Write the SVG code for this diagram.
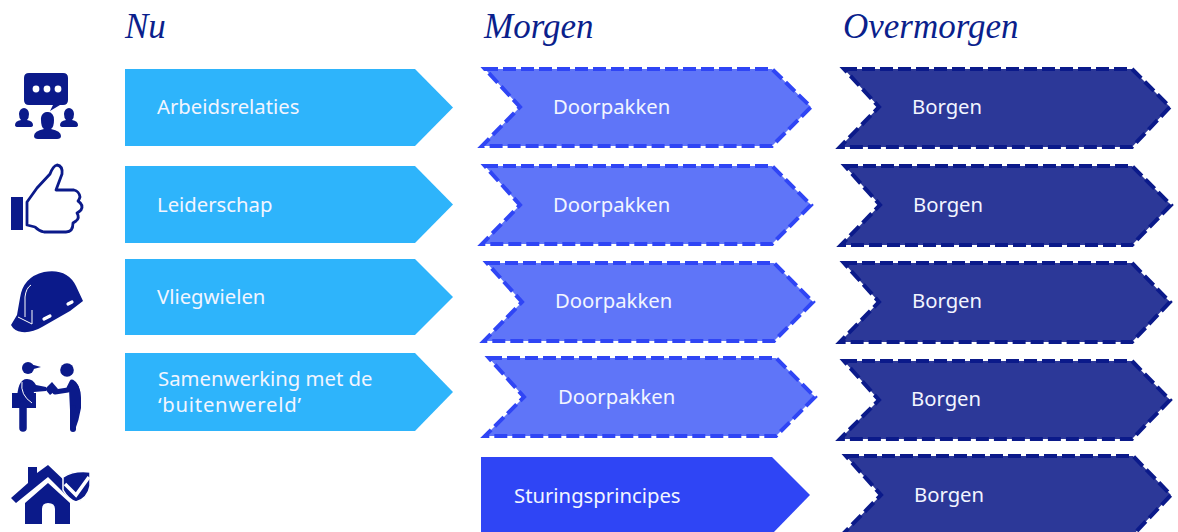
<svg xmlns="http://www.w3.org/2000/svg" width="1178" height="532" viewBox="0 0 1178 532">
<defs>
<style>
.t{font-family:"Noto Sans","Liberation Sans",sans-serif;font-size:20.300px;fill:#f2f5ff}
.h{font-family:"Liberation Serif",serif;font-style:italic;font-size:35px;fill:#0b1f8c}
.nu{fill:#2eb4fb}
.mo{fill:#5f75f8;stroke:#2f45f5;stroke-width:4;stroke-dasharray:13 5}
.ov{fill:#2c3898;stroke:#0b1a8a;stroke-width:4;stroke-dasharray:13 5}
.st{fill:#2f45f5}
.i{fill:#0b1a8a}
</style>
</defs>
<rect width="1178" height="532" fill="#ffffff"/>
<g id="headers">
<text class="h" x="125" y="38">Nu</text>
<text class="h" x="484" y="38">Morgen</text>
<text class="h" x="843" y="38">Overmorgen</text>
</g>
<g id="icon-relaties" class="i">
<path d="M29 73H63Q68 73 68 78V100Q68 105 63 105H60L50 111L53 105H29Q24 105 24 100V78Q24 73 29 73Z"/>
<circle cx="36" cy="89" fill="#fff" r="3.400"/><circle cx="47" cy="89" fill="#fff" r="3.400"/><circle cx="58" cy="89" fill="#fff" r="3.400"/>
<path d="M24 108a5 6 0 0 1 5 6q0 4-2 6q6 1 6 5q0 2-3 2H18q-3 0-3-2q0-4 6-5q-2-2-2-6a5 6 0 0 1 5-6Z"/>
<path d="M69 108a5 6 0 0 1 5 6q0 4-2 6q6 1 6 5q0 2-3 2H63q-3 0-3-2q0-4 6-5q-2-2-2-6a5 6 0 0 1 5-6Z"/>
<path d="M48 112a6 7 0 0 1 6 8q0 7-3 9q10 2 10 7q0 3-4 3H38q-4 0-4-3q0-5 10-7q-3-2-3-9a6 7 0 0 1 7-8Z"/>
</g>
<g id="icon-leiderschap">
<rect class="i" x="11" y="197" width="12" height="33"/>
<path d="M27 202L37 188L50 174Q53 166 57 165Q63 166 62 174L56 190H74Q79 191 80 197Q79 200 78 201Q84 205 81 210Q79 212 77 213Q80 218 76 221L73 223Q73 232 66 232H44Q39 231 35 227L27 225Z" fill="#fff" stroke="#0b1a8a" stroke-width="2.800" stroke-linejoin="round"/>
</g>
<g id="icon-helm" class="i">
<path d="M11 325L17 315L20 298Q23 277 44 272Q67 268 76 286L83 301L70 311L42 327Q32 333 22 332Q14 331 11 325Z"/>
<path d="M25 317L25 297Q26 288 31 285M18 317L32 324L32 310" fill="none" stroke="#fff" stroke-width="1"/>
<path d="M44 319L50 316M68 304L72 302" stroke="#fff" stroke-width="3.200" stroke-linecap="round"/>
</g>
<g id="icon-samenwerking" class="i">
<circle cx="28" cy="368" r="6"/><path d="M30 364L41 367L30 370Z"/>
<circle cx="67" cy="370" r="6.800"/>
<rect x="12" y="393" width="24" height="15"/>
<path d="M17 402Q17 379 27 379Q33 379 36 385L46 387V391L34 392L30 408H17Z"/>
<path d="M23 405V428" stroke="#0b1a8a" stroke-width="7.500" stroke-linecap="round"/>
<path d="M22 382Q20 395 32 403" fill="none" stroke="#fff" stroke-width="1"/>
<path d="M45 389L52 382L58 389L50 395Z"/>
<path d="M55 392L68 390L72 382Q78 385 78 398" fill="none" stroke="#0b1a8a" stroke-width="5" stroke-linecap="round" stroke-linejoin="round"/>
<path d="M69 389Q70 384 73 381Q81 385 81 398V408Q79 420 75 430L72 430Q72 420 70 410Z"/>
<path d="M73 408L73 429" stroke="#0b1a8a" stroke-width="6" stroke-linecap="round"/>
</g>
<g id="icon-huis" class="i">
<path d="M11 498L28 483V467H37V473L48 465L68 484V497L48 477L16 503Z"/>
<path d="M25 503L48 483L70 503V524H55V509Q55 503 48 503Q42 503 42 509V524H25Z"/>
<path d="M63 477Q74 470 90 472V486Q88 498 76 502Q68 499 63 490Z" stroke="#fff" stroke-width="1.500"/>
<path d="M65 484L76 495L89 477" fill="none" stroke="#fff" stroke-width="3.500"/>
</g>
<g id="nu-1"><path class="nu" d="M125 69H415L453 107.500L415 146H125Z"/><text class="t" x="157" y="114">Arbeidsrelaties</text></g>
<g id="nu-2"><path class="nu" d="M125 166H415L453 204.500L415 243H125Z"/><text class="t" x="157" y="212">Leiderschap</text></g>
<g id="nu-3"><path class="nu" d="M125 259H415L453 297L415 335H125Z"/><text class="t" x="157" y="304">Vliegwielen</text></g>
<g id="nu-4"><path class="nu" d="M125 353H415L453 392L415 431H125Z"/><text class="t" x="158" y="386">Samenwerking met de</text><text class="t" x="158" y="412" textLength="143">‘buitenwereld’</text></g>
<g id="morgen-1"><path class="mo" d="M485 69H772L811 107L772 146H482L520 107Z"/><text class="t" x="553" y="114">Doorpakken</text></g>
<g id="morgen-2"><path class="mo" d="M485 166H772L811 205L772 244H482L520 205Z"/><text class="t" x="553" y="212">Doorpakken</text></g>
<g id="morgen-3"><path class="mo" d="M487 263H774L813 302L774 341H484L522 302Z"/><text class="t" x="555" y="308">Doorpakken</text></g>
<g id="morgen-4"><path class="mo" d="M489 358H776L815 397L776 436H485L524 397Z"/><text class="t" x="558" y="404">Doorpakken</text></g>
<g id="morgen-5"><path class="st" d="M481 457H772L810 495L772 534H481Z"/><text class="t" x="514" y="503">Sturingsprincipes</text></g>
<g id="overmorgen-1"><path class="ov" d="M844 69H1132L1170 107L1132 147H840L879 107Z"/><text class="t" x="912" y="114">Borgen</text></g>
<g id="overmorgen-2"><path class="ov" d="M845 166H1132L1171 205L1132 245H841L880 205Z"/><text class="t" x="913" y="212">Borgen</text></g>
<g id="overmorgen-3"><path class="ov" d="M844 263H1132L1170 302L1132 342H840L879 302Z"/><text class="t" x="912" y="308">Borgen</text></g>
<g id="overmorgen-4"><path class="ov" d="M844 361H1132L1170 400L1132 439H840L879 400Z"/><text class="t" x="911" y="406">Borgen</text></g>
<g id="overmorgen-5"><path class="ov" d="M846 456H1133L1171 495L1133 535H842L881 495Z"/><text class="t" x="914" y="502">Borgen</text></g>
</svg>
